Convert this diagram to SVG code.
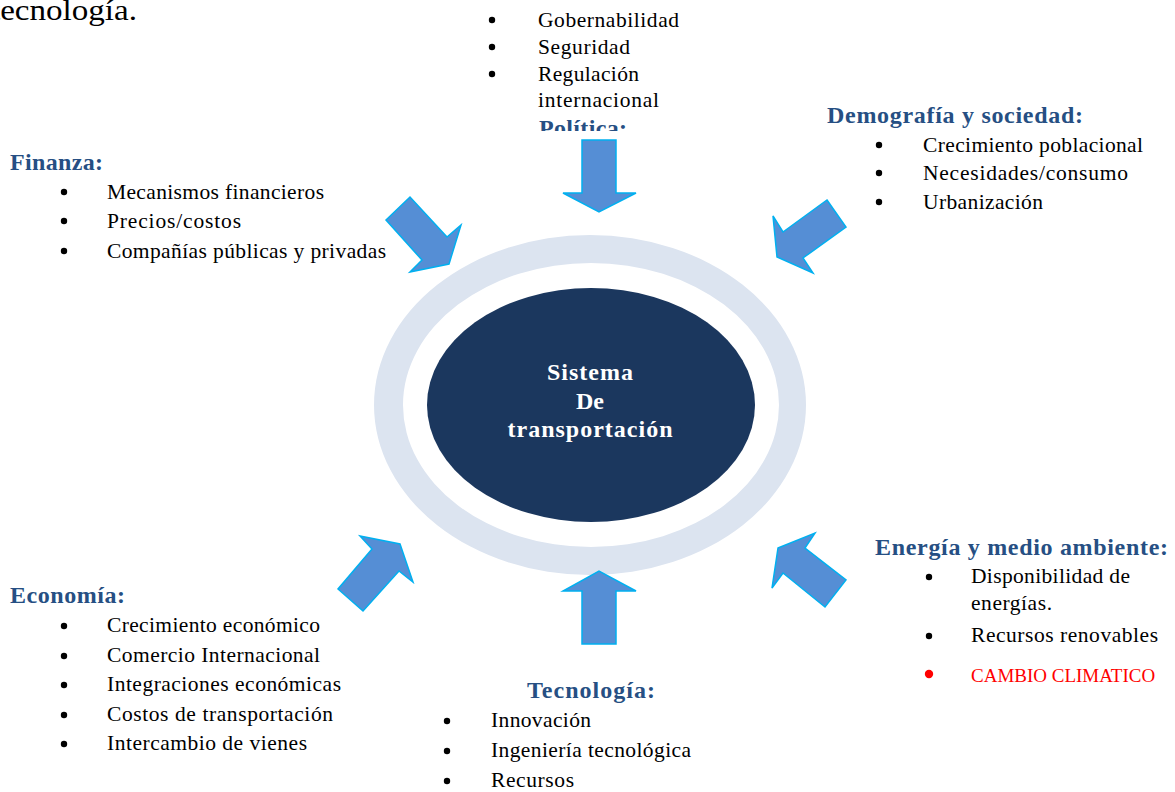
<svg xmlns="http://www.w3.org/2000/svg" width="1175" height="792" viewBox="0 0 1175 792">
  <defs>
    <style>
      text { font-family: "Liberation Serif", "DejaVu Serif", serif; }
      .item { font-size: 21.5px; fill: #000; }
      .title { font-size: 24px; font-weight: bold; fill: #264F83; }
      .core { font-size: 24px; font-weight: bold; fill: #FFFFFF; text-anchor: middle; }
      .dot { fill: #000; }
      .arrow { fill: #558ED5; stroke: #00B0F0; stroke-width: 1.5; stroke-linejoin: miter; }
    </style>
    <clipPath id="topClip">
      <rect x="0" y="0" width="1175" height="131"/>
    </clipPath>
  </defs>

  <rect width="1175" height="792" fill="#FFFFFF"/>

  <!-- trailing word of the preceding paragraph -->
  <text x="-9" y="20" style="font-size:29px;" textLength="146" lengthAdjust="spacingAndGlyphs">tecnología.</text>

  <!-- central system: donut ring and core ellipse -->
  <g id="core">
    <path fill="#DCE4F0" fill-rule="evenodd"
      d="M374,405 a216,170 0 1,0 432,0 a216,170 0 1,0 -432,0 Z
         M403,405 a188,142 0 1,0 376,0 a188,142 0 1,0 -376,0 Z"/>
    <ellipse cx="591" cy="405" rx="164" ry="117" fill="#1B375E"/>
    <text class="core" x="590" y="380" textLength="86">Sistema</text>
    <text class="core" x="590" y="409">De</text>
    <text class="core" x="590" y="437" textLength="165">transportación</text>
  </g>

  <!-- block arrows pointing at the system -->
  <g id="connectors">
    <polygon class="arrow" points="582,140 616,140 616,193 636,193 599,212 563,193 582,193"/>
    <polygon class="arrow" points="582,644 616,644 616,591 636,591 599,571 563,591 582,591"/>
    <polygon class="arrow" points="386,220 410,197 447,237 461,225 449,264 410,272 422,260"/>
    <polygon class="arrow" points="827,200 846,227 803,258 813,273 777,257 773,216 783,232"/>
    <polygon class="arrow" points="778,548 815,533 805,548 846,580 825,607 783,573 772,588"/>
    <polygon class="arrow" points="360,536 400,544 413,582 399,571 363,611 338,589 372,549"/>
  </g>

  <g id="finanza">
    <text class="title" x="10" y="170" textLength="93">Finanza:</text>
    <circle class="dot" cx="64" cy="192" r="3.2"/>
    <text class="item" x="107" y="199" textLength="217">Mecanismos financieros</text>
    <circle class="dot" cx="64" cy="221" r="3.2"/>
    <text class="item" x="107" y="228" textLength="134">Precios/costos</text>
    <circle class="dot" cx="64" cy="251" r="3.2"/>
    <text class="item" x="107" y="258" textLength="279">Compañías públicas y privadas</text>
  </g>

  <g id="politica">
    <circle class="dot" cx="492" cy="20" r="3.2"/>
    <text class="item" x="538" y="27" textLength="141">Gobernabilidad</text>
    <circle class="dot" cx="492" cy="47" r="3.2"/>
    <text class="item" x="538" y="54" textLength="92">Seguridad</text>
    <circle class="dot" cx="492" cy="74" r="3.2"/>
    <text class="item" x="538" y="81" textLength="101">Regulación</text>
    <text class="item" x="538" y="107" textLength="121">internacional</text>
    <text class="title" x="539" y="136" textLength="88" clip-path="url(#topClip)">Política:</text>
  </g>

  <g id="demografia">
    <text class="title" x="827" y="123" textLength="256">Demografía y sociedad:</text>
    <circle class="dot" cx="879" cy="145" r="3.2"/>
    <text class="item" x="923" y="152" textLength="220">Crecimiento poblacional</text>
    <circle class="dot" cx="879" cy="173" r="3.2"/>
    <text class="item" x="923" y="180" textLength="205">Necesidades/consumo</text>
    <circle class="dot" cx="879" cy="202" r="3.2"/>
    <text class="item" x="923" y="209" textLength="120">Urbanización</text>
  </g>

  <g id="energia">
    <text class="title" x="875" y="555" textLength="293">Energía y medio ambiente:</text>
    <circle class="dot" cx="929" cy="577" r="3.2"/>
    <text class="item" x="971" y="583" textLength="159">Disponibilidad de</text>
    <text class="item" x="971" y="610" textLength="81">energías.</text>
    <circle class="dot" cx="929" cy="636" r="3.2"/>
    <text class="item" x="971" y="642" textLength="187">Recursos renovables</text>
    <circle cx="929" cy="674" r="4.2" fill="#FF0000"/>
    <text x="971" y="682" style="font-size:19px; fill:#FF0000;">CAMBIO CLIMATICO</text>
  </g>

  <g id="tecnologia">
    <text class="title" x="527" y="698" textLength="128">Tecnología:</text>
    <circle class="dot" cx="447" cy="721" r="3.2"/>
    <text class="item" x="491" y="727" textLength="100">Innovación</text>
    <circle class="dot" cx="447" cy="751" r="3.2"/>
    <text class="item" x="491" y="757" textLength="200">Ingeniería tecnológica</text>
    <circle class="dot" cx="447" cy="781" r="3.2"/>
    <text class="item" x="491" y="787" textLength="83">Recursos</text>
  </g>

  <g id="economia">
    <text class="title" x="10" y="603" textLength="115">Economía:</text>
    <circle class="dot" cx="64" cy="626" r="3.2"/>
    <text class="item" x="107" y="632" textLength="213">Crecimiento económico</text>
    <circle class="dot" cx="64" cy="656" r="3.2"/>
    <text class="item" x="107" y="662" textLength="213">Comercio Internacional</text>
    <circle class="dot" cx="64" cy="685" r="3.2"/>
    <text class="item" x="107" y="691" textLength="234">Integraciones económicas</text>
    <circle class="dot" cx="64" cy="715" r="3.2"/>
    <text class="item" x="107" y="721" textLength="226">Costos de transportación</text>
    <circle class="dot" cx="64" cy="744" r="3.2"/>
    <text class="item" x="107" y="750" textLength="200">Intercambio de vienes</text>
  </g>
</svg>
